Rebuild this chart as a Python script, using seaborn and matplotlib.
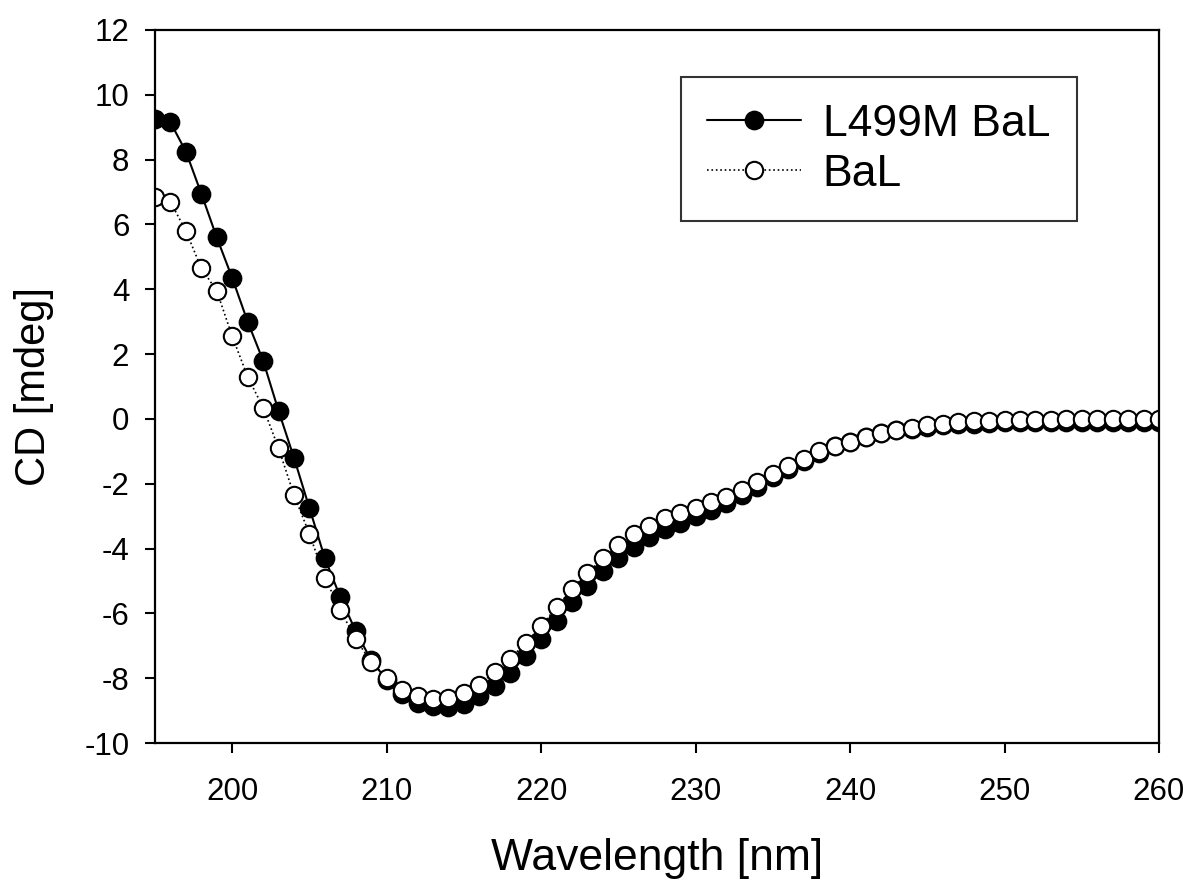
import numpy as np
import pandas as pd
import matplotlib
matplotlib.use("Agg")
import matplotlib.pyplot as plt
import seaborn as sns

wavelength = list(range(195, 261))

l499m_bal = [9.25, 9.15, 8.25, 6.95, 5.6, 4.35, 3.0, 1.8, 0.25, -1.2,
             -2.75, -4.3, -5.5, -6.55, -7.45, -8.05, -8.5, -8.75, -8.85, -8.9,
             -8.8, -8.55, -8.25, -7.85, -7.3, -6.8, -6.25, -5.65, -5.15, -4.7,
             -4.3, -3.95, -3.65, -3.4, -3.2, -3.0, -2.8, -2.6, -2.35, -2.1,
             -1.8, -1.55, -1.3, -1.05, -0.85, -0.7, -0.55, -0.45, -0.35, -0.3,
             -0.25, -0.2, -0.15, -0.15, -0.12, -0.1, -0.1, -0.1, -0.1, -0.1,
             -0.1, -0.1, -0.1, -0.1, -0.1, -0.1]

bal = [6.85, 6.7, 5.8, 4.65, 3.95, 2.55, 1.3, 0.35, -0.9, -2.35,
       -3.55, -4.9, -5.9, -6.8, -7.5, -8.0, -8.35, -8.55, -8.65, -8.6,
       -8.45, -8.2, -7.8, -7.4, -6.9, -6.4, -5.8, -5.25, -4.75, -4.3,
       -3.9, -3.55, -3.3, -3.05, -2.9, -2.75, -2.55, -2.4, -2.2, -1.95,
       -1.7, -1.45, -1.25, -1.0, -0.85, -0.7, -0.55, -0.45, -0.35, -0.28,
       -0.2, -0.15, -0.1, -0.07, -0.05, -0.04, -0.03, -0.02, -0.02, -0.01,
       -0.01, 0.0, 0.0, 0.0, 0.0, 0.0]

series_names = ["L499M BaL", "BaL"]
x_ticks = [200, 210, 220, 230, 240, 250, 260]
y_ticks = list(range(-10, 13, 2))

sns.set_style("ticks")
plt.rcParams['font.family'] = ['Liberation Sans', 'DejaVu Sans']
plt.rcParams['axes.unicode_minus'] = False
plt.rcParams['text.color'] = 'black'
plt.rcParams['axes.labelcolor'] = 'black'

fig = plt.figure(figsize=(11.83, 8.81), dpi=100)
ax = fig.add_axes([0.131, 0.1566, 0.8487, 0.8094])

df1 = pd.DataFrame({"Wavelength": wavelength, "CD": l499m_bal})
df2 = pd.DataFrame({"Wavelength": wavelength, "CD": bal})

sns.lineplot(data=df1, x="Wavelength", y="CD", ax=ax, color="black",
             linewidth=1.5, linestyle="-", marker="o", markersize=13,
             markerfacecolor="black", markeredgecolor="black", markeredgewidth=1.2,
             label=series_names[0])
sns.lineplot(data=df2, x="Wavelength", y="CD", ax=ax, color="black",
             linewidth=1.2, linestyle=":", marker="o", markersize=12.5,
             markerfacecolor="white", markeredgecolor="black", markeredgewidth=1.5,
             label=series_names[1])

ax.set_xlim(195, 260)
ax.set_ylim(-10, 12)
ax.set_xticks(x_ticks)
ax.set_yticks(y_ticks)
ax.tick_params(axis="both", direction="out", length=7.5, width=1.5,
               labelsize=22.5, colors="black", labelcolor="black")
ax.tick_params(axis="x", pad=17)
ax.tick_params(axis="y", pad=11)
for sp in ax.spines.values():
    sp.set_visible(True)
    sp.set_linewidth(1.6)
    sp.set_color("black")
ax.set_xlabel("Wavelength [nm]", fontsize=32, labelpad=22)
ax.set_ylabel("CD [mdeg]", fontsize=30, labelpad=22)

leg = ax.legend(loc="upper right", bbox_to_anchor=(1077/1183, 1 - 77/881),
                bbox_transform=fig.transFigure, fontsize=32, frameon=True,
                fancybox=False, edgecolor="black", handlelength=2.1,
                borderpad=0.6, labelspacing=0.2, handletextpad=0.5,
                borderaxespad=0.0)
leg.get_frame().set_linewidth(1.5)
for t in leg.get_texts():
    t.set_color("black")

fig.savefig("out.png", dpi=100)
